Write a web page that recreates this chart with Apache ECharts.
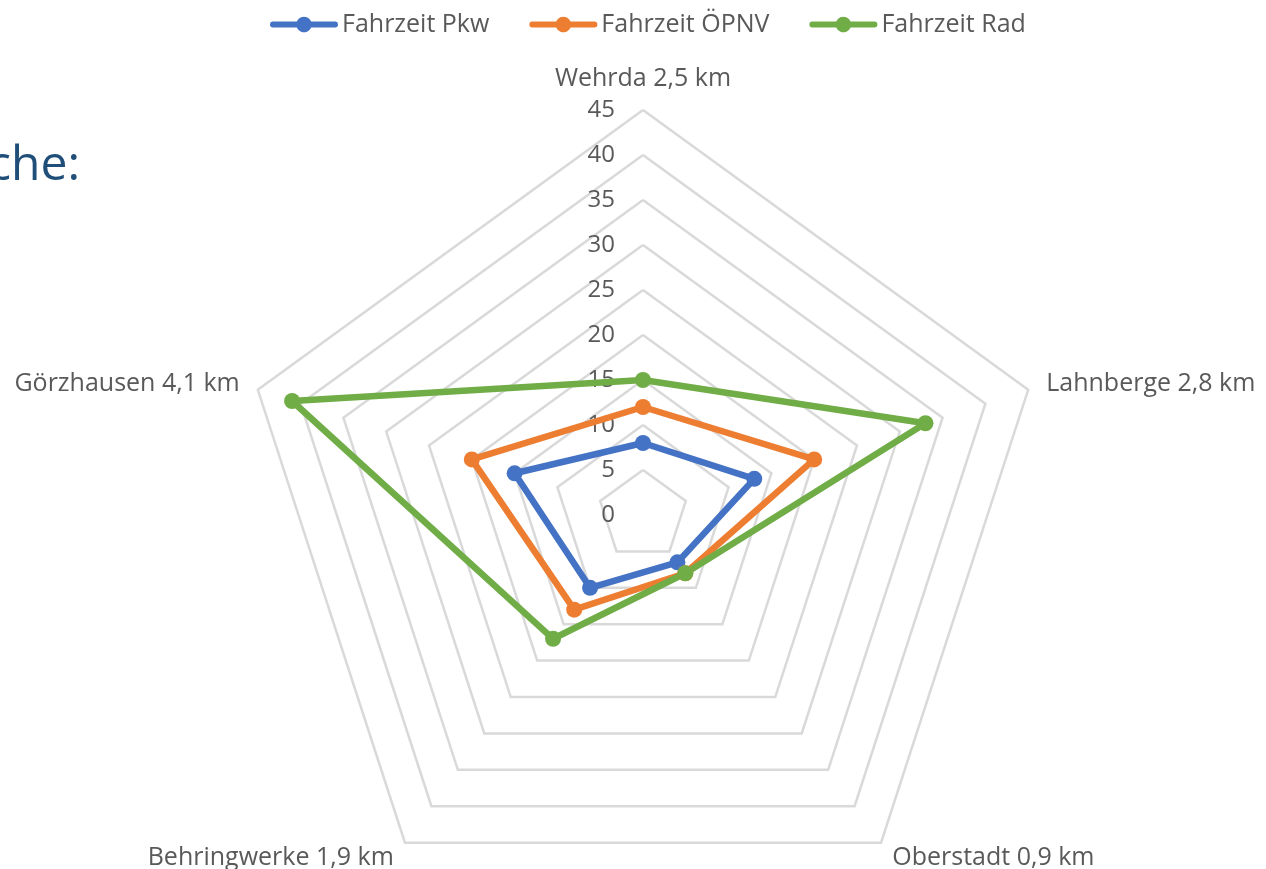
<!DOCTYPE html>
<html>
<head>
<meta charset="utf-8">
<title>Fahrzeiten</title>
<script src="https://cdn.jsdelivr.net/npm/echarts@6/dist/echarts.min.js"></script>
<style>
  html, body { margin: 0; padding: 0; background: #ffffff; }
  #chart { width: 1266px; height: 869px; }
</style>
</head>
<body>
<div id="chart"></div>
<script>
// Destinations, listed clockwise starting at the top
const categories = ['Wehrda 2,5 km', 'Lahnberge 2,8 km', 'Oberstadt 0,9 km', 'Behringwerke 1,9 km', 'Görzhausen 4,1 km'];
const seriesNames = ['Fahrzeit Pkw', 'Fahrzeit ÖPNV', 'Fahrzeit Rad'];
// Travel times in minutes, same order as categories
const pkw  = [8, 13, 6.5, 10, 15];
const oepnv = [12, 20, 8, 13, 20];
const rad  = [15, 33, 8, 17, 41];
const axisMax = 45;
const axisStep = 5;

const colors = ['#4472C4', '#ED7D31', '#70AD47'];
const textColor = '#595959';
const font = 'Open Sans';
const fontSize = 25;

// ECharts lays radar indicators out counter-clockwise; reorder so they read clockwise
const order = [0, 4, 3, 2, 1];
const reorder = arr => order.map(i => arr[i]);

const indicator = reorder(categories).map((name, i) => {
  const ind = { name: name, min: 0, max: axisMax };
  // scale labels only along the top axis
  if (i === 0) ind.axisLabel = { show: true };
  return ind;
});

// legend marker: thick rounded line with a dot in the middle
const legendIcon = 'path://M3,5 H27.584 A8,8 0 0 1 42.416,5 H67 A3,3 0 0 1 67,11 H42.416 A8,8 0 0 1 27.584,11 H3 A3,3 0 0 1 3,5 Z';

const values = [pkw, oepnv, rad];

const chart = echarts.init(document.getElementById('chart'), null, { renderer: 'canvas' });
chart.setOption({
  animation: false,
  backgroundColor: '#ffffff',
  color: colors,
  textStyle: { fontFamily: font },
  legend: {
    left: 265,
    top: 7,
    itemWidth: 68,
    itemHeight: 16,
    itemGap: 40,
    icon: legendIcon,
    textStyle: { color: textColor, fontSize: fontSize, fontFamily: font, padding: [0, 0, 0, -1] },
    data: seriesNames
  },
  graphic: [{
    type: 'text',
    x: 80,
    y: 166,
    style: {
      text: 'che:',
      fill: '#1F4E79',
      font: '48px "Open Sans"',
      textAlign: 'right',
      verticalAlign: 'middle'
    }
  }],
  radar: {
    center: [643, 515],
    radius: 405,
    startAngle: 90,
    shape: 'polygon',
    splitNumber: axisMax / axisStep,
    indicator: indicator,
    axisName: {
      color: textColor,
      fontSize: fontSize,
      fontFamily: font
    },
    nameGap: 19,
    axisLine: { show: false },
    axisTick: { show: false },
    axisLabel: {
      show: false,
      color: textColor,
      fontSize: 24,
      fontFamily: font,
      margin: 28
    },
    splitLine: { lineStyle: { color: '#D9D9D9', width: 2.5 } },
    splitArea: { show: false }
  },
  series: [{
    type: 'radar',
    symbol: 'circle',
    symbolSize: 16,
    lineStyle: { width: 6.5 },
    data: seriesNames.map((name, i) => ({
      name: name,
      value: reorder(values[i]),
      itemStyle: { color: colors[i] },
      lineStyle: { color: colors[i], width: 6.5 }
    }))
  }]
});
</script>
</body>
</html>
